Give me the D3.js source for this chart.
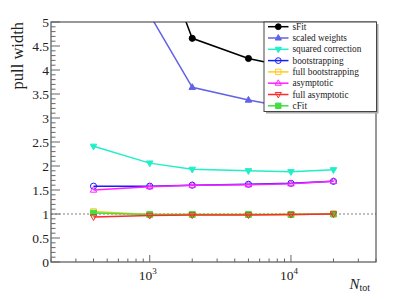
<!DOCTYPE html>
<html>
<head>
<meta charset="utf-8">
<script src="https://cdn.jsdelivr.net/npm/d3@7"></script>
<style>
  body { margin: 0; background: #fff; }
</style>
</head>
<body>
<script>
// data
const nTot = [400, 1000, 2000, 5000, 10000, 20000];
const sFit = [9.0, 7.0, 4.66, 4.24, 4.05, 3.95];
const scaledWeights = [8.0, 5.15, 3.64, 3.375, 3.21, 3.3];
const squaredCorrection = [2.41, 2.06, 1.93, 1.9, 1.88, 1.92];
const bootstrapping = [1.58, 1.58, 1.6, 1.62, 1.64, 1.68];
const fullBootstrapping = [1.05, 0.99, 0.99, 0.99, 0.99, 1.0];
const asymptotic = [1.5, 1.57, 1.6, 1.61, 1.63, 1.68];
const fullAsymptotic = [0.94, 0.97, 0.98, 0.98, 0.99, 1.0];
const cFit = [1.02, 0.99, 0.99, 0.99, 0.99, 1.0];

const yTicks = [0, 0.5, 1, 1.5, 2, 2.5, 3, 3.5, 4, 4.5, 5];
const xMajor = [1000, 10000];

// legend order
const series = [
  { name: "sFit", values: sFit, color: "#000000", marker: "circle", fill: true },
  { name: "scaled weights", values: scaledWeights, color: "#6262e6", marker: "up", fill: true },
  { name: "squared correction", values: squaredCorrection, color: "#22eec8", marker: "down", fill: true },
  { name: "bootstrapping", values: bootstrapping, color: "#1a1aff", marker: "circle", fill: false },
  { name: "full bootstrapping", values: fullBootstrapping, color: "#ffcc22", marker: "square", fill: false },
  { name: "asymptotic", values: asymptotic, color: "#ff22ff", marker: "up", fill: false },
  { name: "full asymptotic", values: fullAsymptotic, color: "#ff2a2a", marker: "down", fill: false },
  { name: "cFit", values: cFit, color: "#44dd44", marker: "square", fill: true }
];
// drawing order on the plot
const drawOrder = [0, 1, 2, 4, 7, 3, 5, 6];

const FONT = "'Liberation Serif', 'Times New Roman', 'DejaVu Serif', serif";
const W = 407, H = 299;
const fLeft = 51, fRight = 376, fTop = 22, fBottom = 262;

const x = d3.scaleLog().domain([200, 40000]).range([fLeft, fRight]);
const y = d3.scaleLinear().domain([0, 5]).range([fBottom, fTop]);

const svg = d3.select("body").append("svg").attr("width", W).attr("height", H)
  .attr("font-family", FONT);

svg.append("clipPath").attr("id", "frame")
  .append("rect").attr("x", fLeft).attr("y", fTop).attr("width", fRight - fLeft).attr("height", fBottom - fTop);

// dotted reference line at 1
svg.append("line")
  .attr("x1", fLeft).attr("x2", fRight)
  .attr("y1", y(1)).attr("y2", y(1))
  .attr("stroke", "#aaa").attr("stroke-width", 1.5).attr("stroke-dasharray", "2,2");

function markerPath(type, s) {
  if (type === "up") return `M0,${-s}L${s * 0.9},${s * 0.6}L${-s * 0.9},${s * 0.6}Z`;
  if (type === "down") return `M0,${s}L${s * 0.9},${-s * 0.6}L${-s * 0.9},${-s * 0.6}Z`;
  if (type === "square") return `M${-s * 0.8},${-s * 0.8}H${s * 0.8}V${s * 0.8}H${-s * 0.8}Z`;
  return null;
}

function drawMarker(g, type, color, fill, cx, cy, s) {
  if (type === "circle") {
    g.append("circle").attr("cx", cx).attr("cy", cy).attr("r", s * 0.85)
      .attr("fill", fill ? color : "none").attr("stroke", color).attr("stroke-width", 1);
  } else {
    g.append("path").attr("d", markerPath(type, s))
      .attr("transform", `translate(${cx},${cy})`)
      .attr("fill", fill ? color : "none").attr("stroke", color).attr("stroke-width", 1);
  }
}

const plot = svg.append("g").attr("clip-path", "url(#frame)");
const line = d3.line().x((d, i) => x(nTot[i])).y(d => y(d));

drawOrder.forEach(k => {
  const s = series[k];
  plot.append("path").datum(s.values)
    .attr("d", line).attr("fill", "none")
    .attr("stroke", s.color).attr("stroke-width", 1.5);
  s.values.forEach((v, i) => {
    if (v <= 5) drawMarker(plot, s.marker, s.color, s.fill, x(nTot[i]), y(v), 3.6);
  });
});

// frame
svg.append("rect").attr("x", fLeft).attr("y", fTop)
  .attr("width", fRight - fLeft).attr("height", fBottom - fTop)
  .attr("fill", "none").attr("stroke", "#333").attr("stroke-width", 1);

// y axis ticks
const yMinor = d3.range(0, 5.001, 0.1);
yMinor.forEach(v => {
  const major = Math.abs(v * 2 - Math.round(v * 2)) < 1e-6;
  svg.append("line").attr("x1", fLeft).attr("x2", fLeft + (major ? 9 : 4.5))
    .attr("y1", y(v)).attr("y2", y(v))
    .attr("stroke", "#666").attr("stroke-width", 1);
});
yTicks.forEach(v => {
  svg.append("text").attr("x", fLeft - 2).attr("y", y(v)).attr("dy", "0.35em")
    .attr("text-anchor", "end").attr("font-size", 13.5).attr("fill", "#222")
    .text(v);
});

// x axis ticks
const xMinor = [];
[100, 1000, 10000].forEach(d => { for (let m = 1; m < 10; m++) { const t = d * m; if (t >= 200 && t <= 40000) xMinor.push(t); } });
xMinor.forEach(t => {
  const major = xMajor.includes(t);
  svg.append("line").attr("x1", x(t)).attr("x2", x(t))
    .attr("y1", fBottom).attr("y2", fBottom - (major ? 7 : 3.5))
    .attr("stroke", "#666").attr("stroke-width", 1);
});
xMajor.forEach(t => {
  const lbl = svg.append("text").attr("x", x(t) - 2).attr("y", 280)
    .attr("text-anchor", "middle").attr("font-size", 13.5).attr("fill", "#222");
  lbl.append("tspan").text("10");
  lbl.append("tspan").attr("dy", -6).attr("font-size", 9).text(Math.round(Math.log10(t)));
});

// axis titles
svg.append("text")
  .attr("transform", `translate(23,${fTop}) rotate(-90)`)
  .attr("text-anchor", "end").attr("font-size", 16.5).attr("fill", "#222")
  .text("pull width");

const xt = svg.append("text").attr("x", 370).attr("y", 289)
  .attr("text-anchor", "end").attr("fill", "#222");
xt.append("tspan").attr("font-style", "italic").attr("font-size", 15).text("N");
xt.append("tspan").attr("dy", 2).attr("font-size", 10).text("tot");

// legend
const lx = 264, ly = 22, lw = 112.5, lh = 89.5;
svg.append("rect").attr("x", lx + 2).attr("y", ly + 2).attr("width", lw).attr("height", lh).attr("fill", "#aaa");
svg.append("rect").attr("x", lx).attr("y", ly).attr("width", lw).attr("height", lh)
  .attr("fill", "#fff").attr("stroke", "#444").attr("stroke-width", 1);

const leg = svg.append("g");
series.forEach((s, i) => {
  const yy = 26.7 + i * 11.3;
  leg.append("line").attr("x1", 268).attr("x2", 288.5).attr("y1", yy).attr("y2", yy)
    .attr("stroke", s.color).attr("stroke-width", 1.5);
  drawMarker(leg, s.marker, s.color, s.fill, 278.3, yy, 3.4);
  leg.append("text").attr("x", 292.5).attr("y", yy).attr("dy", "0.33em")
    .attr("font-size", 9.3).attr("fill", "#222").text(s.name);
});
</script>
</body>
</html>
